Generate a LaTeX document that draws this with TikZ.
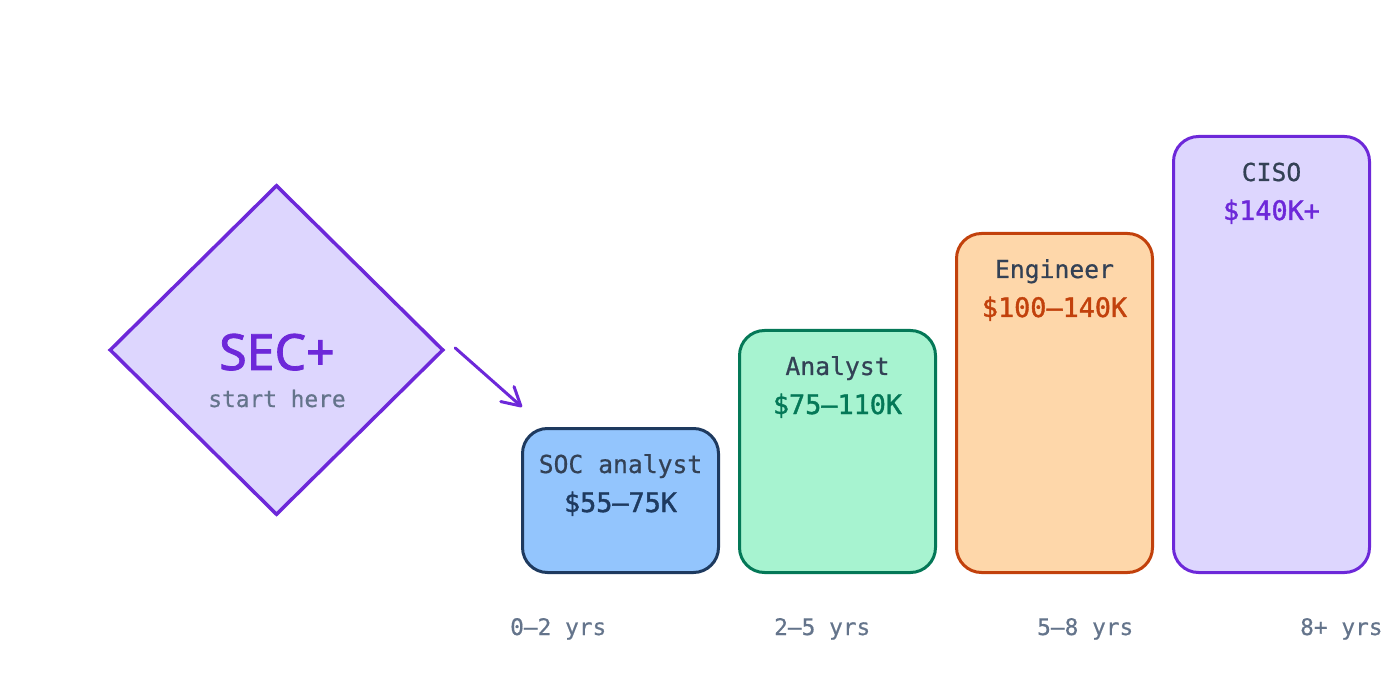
\documentclass[tikz,border=0pt]{standalone}
\usepackage{fontspec}
\usetikzlibrary{shapes.geometric,arrows.meta,calc}
\setmainfont{Fira Sans}
\newfontfamily\monof{DejaVu Sans Mono}[FakeBold=0.6]
\newfontfamily\monom{DejaVu Sans Mono}[FakeBold=1.4]
\newfontfamily\secf{Noto Sans}[FakeBold=1.6]
\definecolor{violetS}{HTML}{6D28D9}
\definecolor{violetF}{HTML}{DDD6FE}
\definecolor{blueF}{HTML}{93C5FD}
\definecolor{blueS}{HTML}{1E3A5F}
\definecolor{greenF}{HTML}{A7F3D0}
\definecolor{greenS}{HTML}{047857}
\definecolor{orangeF}{HTML}{FED7AA}
\definecolor{orangeS}{HTML}{C2410C}
\definecolor{slateT}{HTML}{334155}
\definecolor{grayT}{HTML}{64748B}
\tikzset{
  box/.style={draw, line width=3pt, rounded corners=25pt, minimum width=196pt, inner sep=0pt},
  lbl/.style={font=\monof\fontsize{24.7}{28}\selectfont, text=slateT, anchor=base, inner sep=0pt},
  sal/.style={font=\monom\fontsize{26.8}{30}\selectfont, anchor=base, inner sep=0pt},
  yrs/.style={font=\monof\fontsize{22.8}{26}\selectfont, text=grayT, anchor=base west, inner sep=0pt},
}
\begin{document}
\begin{tikzpicture}[x=1pt,y=-1pt]
\useasboundingbox (0,0) rectangle (1400,700);
% diamond
\node[diamond, draw=violetS, fill=violetF, line width=3.5pt, minimum width=334pt, minimum height=330pt, inner sep=0pt] (dia) at (276.5,350) {};
\node[font=\secf\fontsize{50}{54}\selectfont, text=violetS, anchor=base, inner sep=0pt] (sec) at (277,370) {SEC+};
\node[font=\monof\fontsize{22.8}{26}\selectfont, text=grayT, anchor=base, inner sep=0pt] (start) at (277,407) {start here};
% boxes
\node[box, draw=blueS, fill=blueF, minimum height=144pt] (soc) at (620.5,500.5) {};
\node[box, draw=greenS, fill=greenF, minimum height=242pt] (ana) at (837.5,451.5) {};
\node[box, draw=orangeS, fill=orangeF, minimum height=339pt] (eng) at (1054.5,403) {};
\node[box, draw=violetS, fill=violetF, minimum height=436pt] (ciso) at (1271.5,354.5) {};
% texts
\node[lbl] (socl) at ($(soc.north)+(0,46)$) {SOC analyst};
\node[sal, text=blueS] (socs) at ($(soc.north)+(0,85)$) {\$55–75K};
\node[lbl] (anal) at ($(ana.north)+(0,46)$) {Analyst};
\node[sal, text=greenS] (anas) at ($(ana.north)+(0,85)$) {\$75–110K};
\node[lbl] (engl) at ($(eng.north)+(0,46)$) {Engineer};
\node[sal, text=orangeS] (engs) at ($(eng.north)+(0,85)$) {\$100–140K};
\node[lbl] (cisol) at ($(ciso.north)+(0,46)$) {CISO};
\node[sal, text=violetS] (cisos) at ($(ciso.north)+(0,85)$) {\$140K+};
% years
\node[yrs] (y1) at (510,635) {0–2 yrs};
\node[yrs] (y2) at (774,635) {2–5 yrs};
\node[yrs] (y3) at (1037,635) {5–8 yrs};
\node[yrs] (y4) at (1300,635) {8+ yrs};
% arrow
\coordinate (as) at ($(dia.east)+(10,-2)$);
\coordinate (ae) at ($(soc.north west)+(1,-20)$);
\draw[violetS, line width=3pt, line cap=round, -{Straight Barb[length=18pt,width=20pt,line cap=round,line join=round]}] (as) -- (ae);
\end{tikzpicture}
\end{document}
